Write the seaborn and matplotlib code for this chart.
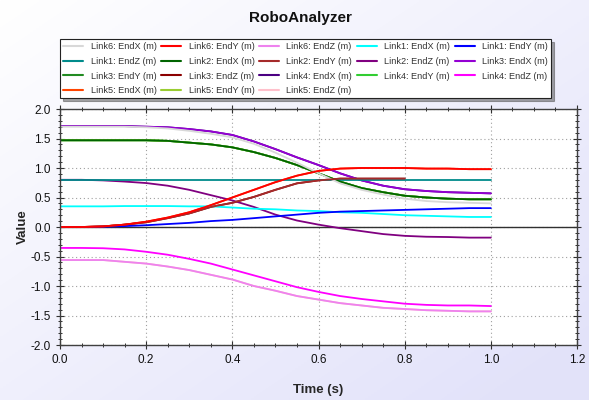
import numpy as np
import pandas as pd
import matplotlib
matplotlib.use('Agg')
import matplotlib.pyplot as plt
import seaborn as sns
from matplotlib.lines import Line2D
from matplotlib.ticker import MultipleLocator

# ---------------- data ----------------
time_s = [0.0, 0.05, 0.1, 0.15, 0.2, 0.25, 0.3, 0.35, 0.4, 0.45, 0.5,
          0.55, 0.6, 0.65, 0.7, 0.75, 0.8, 0.85, 0.9, 0.95, 1.0]

link6_endx = [1.70, 1.70, 1.70, 1.70, 1.69, 1.67, 1.63, 1.58, 1.52, 1.41, 1.26,
              1.09, 0.91, 0.74, 0.63, 0.55, 0.48, 0.44, 0.42, 0.41, 0.40]
link6_endy = [0.00, 0.00, 0.01, 0.04, 0.09, 0.16, 0.25, 0.37, 0.50, 0.63, 0.76,
              0.87, 0.95, 0.99, 1.00, 1.00, 1.00, 0.99, 0.99, 0.98, 0.98]
link6_endz = [-0.56, -0.56, -0.56, -0.59, -0.62, -0.67, -0.73, -0.81, -0.89, -1.00, -1.08,
              -1.17, -1.23, -1.29, -1.33, -1.37, -1.39, -1.41, -1.42, -1.43, -1.43]
link1_endx = [0.35, 0.35, 0.35, 0.355, 0.355, 0.355, 0.35, 0.35, 0.33, 0.31, 0.30,
              0.28, 0.27, 0.25, 0.24, 0.22, 0.20, 0.19, 0.18, 0.17, 0.17]
link1_endy = [0.00, 0.00, 0.005, 0.015, 0.03, 0.05, 0.07, 0.10, 0.12, 0.15, 0.18,
              0.21, 0.24, 0.26, 0.27, 0.28, 0.29, 0.30, 0.31, 0.32, 0.32]
link1_endz = [0.80] * 21
link2_endx = [1.47, 1.47, 1.47, 1.47, 1.47, 1.46, 1.43, 1.40, 1.35, 1.27, 1.17,
              1.05, 0.91, 0.77, 0.66, 0.59, 0.53, 0.50, 0.48, 0.47, 0.47]
link2_endy = [0.00, 0.00, 0.01, 0.04, 0.08, 0.15, 0.23, 0.34, 0.41, 0.51, 0.63,
              0.74, 0.79, 0.82, 0.82, 0.82, 0.82, np.nan, np.nan, np.nan, np.nan]
link2_endz = [0.80, 0.80, 0.79, 0.77, 0.745, 0.70, 0.63, 0.54, 0.45, 0.34, 0.21,
              0.11, 0.04, -0.02, -0.07, -0.12, -0.15, -0.165, -0.17, -0.18, -0.18]
link3_endx = [1.71, 1.71, 1.71, 1.71, 1.70, 1.69, 1.66, 1.62, 1.56, 1.45, 1.32,
              1.18, 1.05, 0.91, 0.79, 0.70, 0.64, 0.61, 0.59, 0.58, 0.57]
link4_endz = [-0.355, -0.355, -0.36, -0.38, -0.42, -0.47, -0.54, -0.62, -0.72, -0.82, -0.92,
              -1.02, -1.10, -1.17, -1.22, -1.26, -1.30, -1.32, -1.33, -1.33, -1.34]

# these ones sit underneath other curves in the picture
link3_endy = link2_endx
link3_endz = link2_endy
link4_endx = link3_endx
link4_endy = link2_endx
link5_endx = link6_endy
link5_endy = link2_endx
link5_endz = link6_endz

legend_order = [
    'Link6: EndX (m)', 'Link6: EndY (m)', 'Link6: EndZ (m)', 'Link1: EndX (m)', 'Link1: EndY (m)',
    'Link1: EndZ (m)', 'Link2: EndX (m)', 'Link2: EndY (m)', 'Link2: EndZ (m)', 'Link3: EndX (m)',
    'Link3: EndY (m)', 'Link3: EndZ (m)', 'Link4: EndX (m)', 'Link4: EndY (m)', 'Link4: EndZ (m)',
    'Link5: EndX (m)', 'Link5: EndY (m)', 'Link5: EndZ (m)',
]

series = {
    'Link6: EndX (m)': link6_endx, 'Link6: EndY (m)': link6_endy, 'Link6: EndZ (m)': link6_endz,
    'Link1: EndX (m)': link1_endx, 'Link1: EndY (m)': link1_endy, 'Link1: EndZ (m)': link1_endz,
    'Link2: EndX (m)': link2_endx, 'Link2: EndY (m)': link2_endy, 'Link2: EndZ (m)': link2_endz,
    'Link3: EndX (m)': link3_endx, 'Link3: EndY (m)': link3_endy, 'Link3: EndZ (m)': link3_endz,
    'Link4: EndX (m)': link4_endx, 'Link4: EndY (m)': link4_endy, 'Link4: EndZ (m)': link4_endz,
    'Link5: EndX (m)': link5_endx, 'Link5: EndY (m)': link5_endy, 'Link5: EndZ (m)': link5_endz,
}

colors = {
    'Link6: EndX (m)': '#d8d8d8', 'Link6: EndY (m)': '#ff0000', 'Link6: EndZ (m)': '#ee82ee',
    'Link1: EndX (m)': '#00ffff', 'Link1: EndY (m)': '#0000ff', 'Link1: EndZ (m)': '#008b8b',
    'Link2: EndX (m)': '#006400', 'Link2: EndY (m)': '#a52a2a', 'Link2: EndZ (m)': '#800080',
    'Link3: EndX (m)': '#9400d3', 'Link3: EndY (m)': '#228b22', 'Link3: EndZ (m)': '#8b0000',
    'Link4: EndX (m)': '#4b0082', 'Link4: EndY (m)': '#32cd32', 'Link4: EndZ (m)': '#ff00ff',
    'Link5: EndX (m)': '#ff4500', 'Link5: EndY (m)': '#9acd32', 'Link5: EndZ (m)': '#ffc0cb',
}

# bottom first -> top last
draw_order = [
    'Link3: EndY (m)', 'Link4: EndY (m)', 'Link5: EndY (m)', 'Link3: EndZ (m)', 'Link5: EndX (m)',
    'Link4: EndX (m)', 'Link5: EndZ (m)', 'Link3: EndX (m)', 'Link2: EndZ (m)', 'Link6: EndZ (m)',
    'Link4: EndZ (m)', 'Link1: EndX (m)', 'Link1: EndY (m)', 'Link1: EndZ (m)', 'Link2: EndX (m)',
    'Link6: EndX (m)', 'Link2: EndY (m)', 'Link6: EndY (m)',
]

rows = []
for name in draw_order:
    for t, v in zip(time_s, series[name]):
        if not np.isnan(v):
            rows.append({'time': t, 'value': v, 'series': name})
df = pd.DataFrame(rows)

# ---------------- figure ----------------
sns.set_style('white')
plt.rcParams['font.family'] = ['Liberation Sans Narrow', 'Liberation Sans', 'DejaVu Sans']

fig = plt.figure(figsize=(5.89, 4.0), dpi=100)

# soft white -> lavender background
bg = fig.add_axes([0, 0, 1, 1], zorder=-10)
gx, gy = np.meshgrid(np.linspace(0, 1, 200), np.linspace(0, 1, 200))
g = np.clip(0.55 * gx + 0.55 * gy, 0, 1)
c0 = np.array([1.0, 1.0, 1.0])
c1 = np.array([0.89, 0.89, 0.98])
img = c0[None, None, :] * (1 - g[..., None]) + c1[None, None, :] * g[..., None]
bg.imshow(img, aspect='auto', extent=[0, 1, 0, 1])
bg.axis('off')

ax = fig.add_axes([60 / 589, 1 - 345 / 400, 517 / 589, 236 / 400])
ax.set_facecolor('white')

sns.lineplot(data=df, x='time', y='value', hue='series', hue_order=draw_order,
             palette=colors, linewidth=1.3, legend=False, estimator=None,
             sort=False, ax=ax)

ax.axhline(0, color='#303030', linewidth=1.0, zorder=1)

ax.set_xlim(0, 1.2)
ax.set_ylim(-2.0, 2.0)
ax.xaxis.set_major_locator(MultipleLocator(0.2))
ax.xaxis.set_minor_locator(MultipleLocator(0.05))
ax.yaxis.set_major_locator(MultipleLocator(0.5))
ax.yaxis.set_minor_locator(MultipleLocator(0.1))
ax.set_xticklabels([f'{v:.1f}' for v in ax.get_xticks()])
ax.set_yticklabels([f'{v:.1f}' for v in ax.get_yticks()])
ax.grid(True, which='major', color='#a0a0a0', linestyle=(0, (1, 2.5)), linewidth=0.8)
ax.tick_params(which='both', direction='inout', top=True, right=True, bottom=True, left=True,
               labelsize=8.5, colors='#303030', labelcolor='#111111')
ax.tick_params(which='major', length=6, width=0.8)
ax.tick_params(which='minor', length=3.5, width=0.7)
for s in ax.spines.values():
    s.set_color('#404040')
    s.set_linewidth(1.0)

ax.set_xlabel('Time (s)', fontsize=9.5, fontweight='bold', labelpad=13)
ax.set_ylabel('Value', fontsize=9.5, fontweight='bold', labelpad=1)

fig.text(0.51, 1 - 18 / 400, 'RoboAnalyzer', ha='center', va='center',
         fontsize=11, fontweight='bold', color='#111111')

# matplotlib fills legend columns first; reorder so it reads row by row
ncol = 5
col_order = [legend_order[i] for c in range(ncol) for i in range(c, len(legend_order), ncol)]
handles = [Line2D([0], [0], color=colors[n], linewidth=1.5) for n in col_order]
leg = fig.legend(handles, col_order, loc='upper left', ncol=ncol, mode='expand',
                 bbox_to_anchor=(60 / 589, 1 - 101 / 400, 491 / 589, 62 / 400),
                 fontsize=6.6, frameon=True, fancybox=False, shadow=True,
                 handlelength=2.2, handletextpad=0.8, labelspacing=0.62,
                 borderaxespad=0, borderpad=0.35, columnspacing=0.5)
leg.get_frame().set_edgecolor('#222222')
leg.get_frame().set_linewidth(0.8)
for txt in leg.get_texts():
    txt.set_color('#333333')

fig.savefig('out.png', dpi=100)
